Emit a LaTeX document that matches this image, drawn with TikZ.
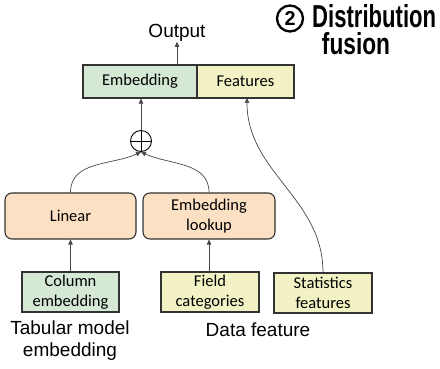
\documentclass[tikz,border=0pt]{standalone}
\usepackage{fontspec}
\setmainfont{Liberation Sans}
\newfontfamily\boxfont{Carlito}
\usetikzlibrary{arrows.meta,calc}
\definecolor{gfill}{RGB}{213,232,212}
\definecolor{yfill}{RGB}{242,242,196}
\definecolor{ofill}{RGB}{252,224,196}
\definecolor{bord}{RGB}{50,50,50}
\definecolor{conn}{RGB}{70,70,70}
\begin{document}
\begin{tikzpicture}[x=1pt,y=-1pt,
  box/.style={draw=bord,line width=1.1pt,inner sep=0pt,align=center,
    font=\boxfont\fontsize{16.5}{20}\selectfont},
  gbox/.style={box,fill=gfill},
  ybox/.style={box,fill=yfill},
  obox/.style={box,fill=ofill,rounded corners=7pt},
  lab/.style={align=center,font=\fontsize{19}{22}\selectfont},
  ttl/.style={inner sep=0pt,font=\bfseries\fontsize{22.5}{27}\selectfont},
  arr/.style={draw=conn,line width=0.7pt,-{Triangle[length=5pt,width=4.5pt]}}]
\useasboundingbox (0,0) rectangle (440,369);
% top row
\node[gbox,minimum width=114pt,minimum height=33pt] (emb) at (140,81.5) {Embedding};
\node[ybox,minimum width=97pt,minimum height=33pt] (feat) at (245.5,81.5) {Features};
\node[lab,inner sep=0pt] (out) at (177,33) {Output};
% plus
\node[circle,draw=black,line width=0.9pt,minimum size=21pt,inner sep=0pt] (plus) at (141,141) {};
\draw[line width=0.9pt] (plus.north) -- (plus.south) (plus.west) -- (plus.east);
% middle row
\node[obox,minimum width=131pt,minimum height=46pt] (linear) at (70.5,216) {Linear};
\node[obox,minimum width=132pt,minimum height=46pt] (lookup) at (209,216) {Embedding\\lookup};
% bottom row
\node[gbox,minimum width=97pt,minimum height=40pt] (col) at (70.5,292) {Column\\embedding};
\node[ybox,minimum width=98pt,minimum height=40pt] (field) at (210,292) {Field\\categories};
\node[ybox,minimum width=98pt,minimum height=40pt] (stats) at (323,293) {Statistics\\features};
% labels
\node[lab] (tab) at (70,341) {Tabular model\\embedding};
\node[lab] (data) at (258,330) {Data feature};
% title
\node[circle,draw=black,line width=2.3pt,minimum size=26pt,inner sep=0pt,
  font=\bfseries\fontsize{19}{22}\selectfont] (num) at (290,18.5) {\resizebox{11pt}{14pt}{2}};
\node[ttl,anchor=base west] (t1) at (312,28) {\resizebox{124pt}{23pt}{Distribution}};
\node[ttl,anchor=base] (t2) at (356,55) {\resizebox{68pt}{22pt}{fusion}};
% connectors
\draw[arr] (emb.north -| out) -- (out.south);
\draw[arr] (plus.north) -- (plus.north |- emb.south);
\draw[arr] (col.north) -- (col.north |- linear.south);
\draw[arr] (field.north -| lookup) -- (lookup.south);
\draw[arr] (linear.north) to[out=90,in=-155] (plus.south);
\draw[arr] (lookup.north) to[out=90,in=-25] (plus.south);
\coordinate (fin) at (247,98);
\draw[arr] (stats.north) to[out=90,in=-90] (fin);
\end{tikzpicture}
\end{document}
